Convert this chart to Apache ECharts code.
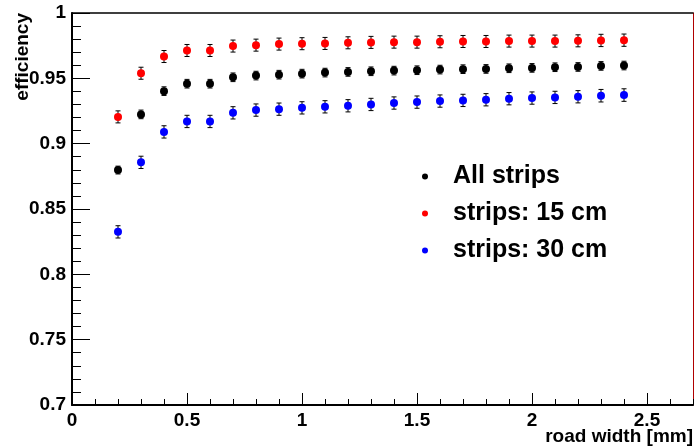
<!DOCTYPE html>
<html><head><meta charset="utf-8">
<script src="https://cdn.jsdelivr.net/npm/echarts@6/dist/echarts.min.js"></script>
<style>html,body{margin:0;padding:0;background:#fff}#c{width:695px;height:448px}</style>
</head><body><div id="c"></div>
<script>
const roadWidth = [0.2,0.3,0.4,0.5,0.6,0.7,0.8,0.9,1.0,1.1,1.2,1.3,1.4,1.5,1.6,1.7,1.8,1.9,2.0,2.1,2.2,2.3,2.4];
const effAll = [0.8798,0.9224,0.9402,0.9459,0.9459,0.9508,0.9521,0.9528,0.9536,0.9544,0.9549,0.9554,0.9559,0.9562,0.9567,0.9570,0.9572,0.9577,0.9580,0.9585,0.9587,0.9595,0.9598];
const eff15 = [0.9205,0.9539,0.9667,0.9713,0.9713,0.9747,0.9754,0.9762,0.9765,0.9767,0.9772,0.9775,0.9777,0.9777,0.9780,0.9782,0.9782,0.9785,0.9785,0.9785,0.9787,0.9790,0.9792];
const eff30 = [0.8325,0.8857,0.9090,0.9170,0.9170,0.9236,0.9257,0.9264,0.9274,0.9282,0.9290,0.9300,0.9311,0.9318,0.9326,0.9331,0.9336,0.9344,0.9349,0.9354,0.9359,0.9367,0.9372];
const errAll = [0.0030,0.0033,0.0033,0.0033,0.0033,0.0033,0.0033,0.0033,0.0033,0.0033,0.0033,0.0033,0.0033,0.0033,0.0033,0.0033,0.0033,0.0033,0.0033,0.0033,0.0033,0.0033,0.0033];
const err15 = [0.0046,0.0046,0.0046,0.0046,0.0046,0.0046,0.0046,0.0046,0.0046,0.0046,0.0046,0.0046,0.0046,0.0046,0.0046,0.0046,0.0046,0.0046,0.0046,0.0046,0.0046,0.0047,0.0047];
const err30 = [0.0047,0.0047,0.0047,0.0047,0.0047,0.0047,0.0047,0.0047,0.0047,0.0047,0.0047,0.0047,0.0047,0.0047,0.0047,0.0047,0.0047,0.0047,0.0047,0.0047,0.0047,0.0048,0.0048];
const seriesNames = ['All strips','strips: 15 cm','strips: 30 cm'];
const seriesColors = ['#000000','#ff0000','#0000ff'];
const xTitle = 'road width [mm]';
const yTitle = 'efficiency';

const FONT = "'Liberation Sans', Arial, Helvetica, sans-serif";
const effs = [effAll, eff15, eff30];
const errs = [errAll, err15, err30];

function errRender(params, api){
  const x = api.value(0), lo = api.value(1), hi = api.value(2);
  const a = api.coord([x, lo]), b = api.coord([x, hi]);
  const hw = 2.5, st = {stroke:'#000', lineWidth:1};
  return {type:'group', children:[
    {type:'line', shape:{x1:a[0],y1:a[1],x2:b[0],y2:b[1]}, style:st},
    {type:'line', shape:{x1:a[0]-hw,y1:a[1],x2:a[0]+hw,y2:a[1]}, style:st},
    {type:'line', shape:{x1:b[0]-hw,y1:b[1],x2:b[0]+hw,y2:b[1]}, style:st}
  ]};
}

const series = [];
effs.forEach((eff, k) => {
  series.push({
    type:'custom', name: seriesNames[k]+' err', renderItem: errRender, silent:true, z:3,
    data: roadWidth.map((x,i)=>[x, eff[i]-errs[k][i], eff[i]+errs[k][i]]),
    encode:{x:0, y:[1,2]}
  });
});
effs.forEach((eff, k) => {
  series.push({
    type:'scatter', name: seriesNames[k], symbol:'circle', symbolSize:8, z:5,
    itemStyle:{color: seriesColors[k], opacity:1},
    data: roadWidth.map((x,i)=>[x, eff[i]])
  });
});

const chart = echarts.init(document.getElementById('c'), null, {renderer:'canvas'});
const labelStyle = {fontFamily:FONT, fontWeight:'bold', fontSize:19, color:'#000'};
chart.setOption({
  animation:false,
  backgroundColor:'#fff',
  grid:{left:72, right:2, top:13, bottom:43, containLabel:false},
  xAxis:[
    {type:'value', min:0, max:2.7, interval:0.5, position:'bottom',
     axisLine:{show:true, onZero:false, lineStyle:{color:'#000', width:2}},
     axisTick:{inside:true, length:12, lineStyle:{color:'#000', width:1}},
     axisLabel:Object.assign({margin:6, showMaxLabel:false, formatter:v=>String(+v.toFixed(2))}, labelStyle),
     splitLine:{show:false}},
    {type:'value', min:0, max:2.7, interval:0.1, position:'bottom',
     axisLine:{show:false},
     axisTick:{inside:true, length:6, lineStyle:{color:'#000', width:1}},
     axisLabel:{show:false}, splitLine:{show:false}},
    {type:'value', min:0, max:2.7, position:'top',
     axisLine:{show:true, onZero:false, lineStyle:{color:'#000', width:1.5}},
     axisTick:{show:false}, axisLabel:{show:false}, splitLine:{show:false}}
  ],
  yAxis:[
    {type:'value', min:0.7, max:1, interval:0.05, position:'left',
     axisLine:{show:true, onZero:false, lineStyle:{color:'#000', width:2}},
     axisTick:{inside:true, length:18, lineStyle:{color:'#000', width:1}},
     minorTick:{show:true, splitNumber:5, length:9, lineStyle:{color:'#000', width:1}},
     axisLabel:Object.assign({margin:6, formatter:v=>String(+v.toFixed(2))}, labelStyle),
     splitLine:{show:false}},
    {type:'value', min:0.7, max:1, position:'right',
     axisLine:{show:true, onZero:false, lineStyle:{color:'#b00000', width:1}},
     axisTick:{show:false}, axisLabel:{show:false}, splitLine:{show:false}}
  ],
  legend:{
    data: seriesNames, orient:'vertical', left:422, top:164, padding:0,
    icon:'circle', itemWidth:46, itemHeight:6, itemGap:12,
    itemStyle:{opacity:1},
    textStyle:{fontFamily:FONT, fontWeight:'bold', fontSize:25, lineHeight:24, color:'#000'},
    selectedMode:false
  },
  graphic:[
    {type:'text', x:23, y:13, rotation:Math.PI/2,
     style:{text:yTitle, font:"bold 19px 'Liberation Sans', Arial, sans-serif", fill:'#000', textAlign:'right', textVerticalAlign:'middle'}},
    {type:'text', right:2, top:427,
     style:{text:xTitle, font:"bold 19px 'Liberation Sans', Arial, sans-serif", fill:'#000'}}
  ],
  series: series
});
</script></body></html>
